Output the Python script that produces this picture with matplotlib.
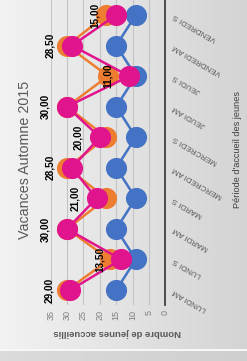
import numpy as np
import matplotlib
matplotlib.use("Agg")
import matplotlib.pyplot as plt

plt.rcParams['font.family'] = ['Liberation Sans', 'DejaVu Sans']

# data (chart is shown turned a quarter turn, values run right to left)
periodes = ["LUNDI AM", "LUNDI S", "MARDI AM", "MARDI S", "MERCREDI AM",
            "MERCREDI S", "JEUDI AM", "JEUDI S", "VENDREDI AM", "VENDREDI S"]
serie_orange = [30, 17, 30, 18, 30, 18, 30, 17.5, 30, 18]
serie_rose = [29, 13.5, 30, 21, 28.5, 20, 30, 11, 28.5, 15]
serie_bleue = [15, 9, 15, 9, 15, 9, 15, 9, 15, 9]
graduations = [0, 5, 10, 15, 20, 25, 30, 35]

W, H = 247, 361
fig = plt.figure(figsize=(W / 100, H / 100), dpi=100)

# grey gradient background like the spreadsheet chart area
bg = fig.add_axes([0, 0, 1, 1], zorder=0)
ramp = np.linspace(0.95, 0.83, W)
img = np.tile(ramp, (H, 1))
img[351:, :] = np.linspace(0.86, 0.81, W)
img[349:351, :] = 0.97
bg.imshow(np.dstack([img] * 3), aspect='auto', extent=[0, 1, 0, 1])
bg.axis('off')

ax = fig.add_axes([50.7 / W, (H - 305.3) / H, (165.3 - 50.7) / W, 305.6 / H], zorder=1)
ax.patch.set_alpha(0)

y = np.arange(len(periodes))
ms = 14.2
ax.plot(serie_bleue, y, color='#4472c4', lw=1.8, marker='o', ms=ms, zorder=3)
ax.plot(serie_orange, y, color='#ed7d31', lw=1.8, marker='o', ms=ms, zorder=4)
ax.plot(serie_rose, y, color='#e0148c', lw=1.8, marker='o', ms=ms, zorder=5)

for i, v in enumerate(serie_rose):
    ax.annotate(f"{v:.2f}".replace('.', ','), (v, i), xytext=(-15.5, 0),
                textcoords='offset points', rotation=90, ha='center', va='center',
                fontsize=7.2, fontweight='bold', color='black', zorder=6,
                annotation_clip=False)

ax.set_xlim(35, 0)
ax.set_ylim(-0.5, len(periodes) - 0.5)
ax.set_xticks(graduations)
ax.set_xticklabels([str(g) for g in graduations])
ax.tick_params(axis='x', length=0, pad=3.4, labelsize=6.5, labelcolor='#7f7f7f',
               labelrotation=90)
ax.grid(axis='x', color='#c4c4c4', lw=0.8, zorder=1)

ax.yaxis.tick_right()
ax.set_yticks(y)
ax.set_yticklabels(periodes, rotation=150, ha='right', va='center',
                   rotation_mode='anchor', fontsize=5.8, color='#595959')
ax.tick_params(axis='y', length=0, pad=6)

for s in ['left', 'top', 'bottom']:
    ax.spines[s].set_visible(False)
ax.spines['right'].set_color('#3f3f3f')
ax.spines['right'].set_linewidth(1.3)

fig.text(25 / W, 1 - 160 / H, "Vacances Automne 2015", rotation=90,
         ha='center', va='center', fontsize=10.3, color='#595959')
fig.text(117 / W, 1 - 332 / H, "Nombre de jeunes accueillis", rotation=180,
         ha='center', va='center', fontsize=6.8, fontweight='bold', color='#595959')
fig.text(237.5 / W, 1 - 150 / H, "Période d'accueil des jeunes", rotation=90,
         ha='center', va='center', fontsize=6.6, color='#404040')

fig.savefig("out.png", dpi=100)
